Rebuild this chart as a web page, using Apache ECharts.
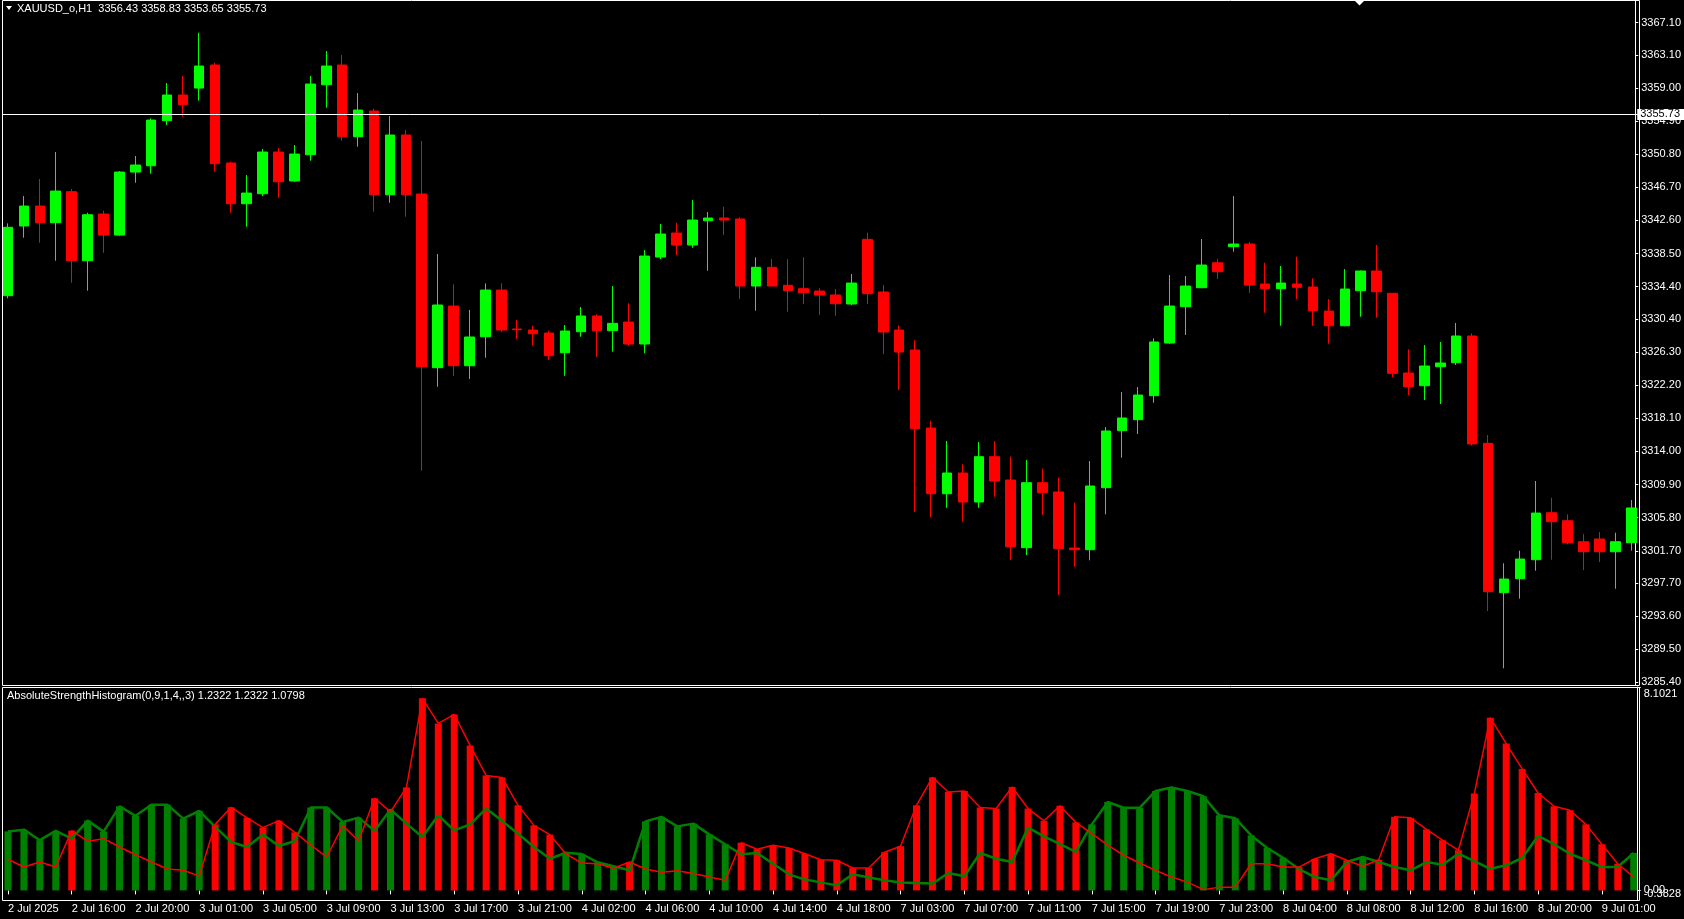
<!DOCTYPE html>
<html><head><meta charset="utf-8">
<script src="https://cdn.jsdelivr.net/npm/echarts@6/dist/echarts.min.js"></script>
<style>html,body{margin:0;padding:0;background:#000;}#c{width:1684px;height:919px;}</style>
</head><body><div id="c"></div>
<script>
// trading sessions (day, first hour, last hour) -> one H1 bar per hour
const sessions = [['2 Jul',12,23],['3 Jul',1,23],['4 Jul',1,19],['7 Jul',1,23],['8 Jul',1,23],['9 Jul',1,3]];
const firstLabel = '2 Jul 2025';
const mainTitle = 'XAUUSD_o,H1  3356.43 3358.83 3353.65 3355.73';
const subTitle = 'AbsoluteStrengthHistogram(0,9,1,4,,3) 1.2322 1.2322 1.0798';
const priceLine = 3355.73;
const zeroLevel = 0;

const opens = [3333.28,3341.91,3344.38,3342.32,3346.16,3337.61,3343.39,3340.79,3348.59,3349.37,
3354.95,3358.13,3358.99,3361.84,3349.71,3344.67,3345.91,3351.07,3347.48,3350.74,
3359.40,3361.84,3352.96,3356.15,3345.78,3353.18,3345.87,3324.37,3332.00,3324.61,
3328.20,3333.98,3329.16,3329.03,3328.66,3326.22,3328.82,3330.77,3328.95,3330.02,
3327.30,3338.07,3341.04,3339.56,3342.56,3342.90,3342.78,3334.48,3336.80,3334.57,
3334.15,3333.86,3333.37,3332.25,3340.26,3333.74,3329.03,3326.56,3316.90,3308.76,
3311.33,3307.74,3313.35,3310.46,3302.08,3310.13,3308.98,3302.04,3301.83,3309.51,
3316.57,3317.93,3320.90,3327.42,3331.92,3334.27,3337.36,3339.35,3339.68,3334.73,
3334.15,3334.73,3334.36,3331.38,3329.56,3333.90,3336.34,3333.58,3323.71,3322.14,
3324.49,3324.98,3328.29,3315.00,3296.51,3298.24,3300.59,3306.41,3305.42,3302.82,
3303.16,3301.58,3302.70];
const highs = [3342.24,3345.62,3347.73,3351.07,3346.49,3343.56,3343.80,3348.70,3350.58,3355.24,
3359.61,3360.48,3365.84,3362.13,3349.87,3348.22,3351.44,3351.57,3351.94,3360.48,
3363.57,3363.08,3358.37,3356.43,3355.53,3353.79,3352.43,3338.44,3334.69,3331.51,
3334.81,3334.81,3330.27,3329.56,3328.95,3329.65,3331.88,3330.98,3334.48,3332.34,
3338.94,3342.16,3342.32,3345.13,3343.64,3344.30,3342.99,3338.03,3337.82,3337.79,
3338.03,3334.20,3334.11,3335.97,3341.08,3334.60,3329.61,3327.76,3317.80,3315.29,
3312.40,3315.17,3315.29,3313.35,3312.94,3311.86,3310.75,3307.65,3312.81,3317.02,
3321.36,3321.97,3328.00,3335.84,3335.72,3340.30,3337.86,3345.62,3339.93,3337.36,
3336.96,3338.11,3335.43,3332.87,3336.58,3336.40,3339.56,3333.60,3326.64,3327.17,
3327.55,3329.90,3328.62,3316.03,3300.15,3301.71,3310.34,3308.27,3306.21,3303.77,
3304.02,3303.94,3307.98];
const lows = [3332.96,3340.46,3339.84,3337.61,3334.89,3333.90,3338.60,3340.70,3347.27,3348.38,
3354.41,3355.44,3357.42,3348.63,3343.56,3341.82,3345.62,3345.41,3347.40,3349.99,
3356.56,3352.47,3351.73,3343.68,3344.79,3343.06,3311.61,3322.01,3323.34,3322.97,
3325.60,3328.82,3327.92,3327.09,3325.32,3323.37,3328.20,3325.72,3326.35,3327.09,
3326.15,3337.82,3338.32,3339.22,3336.37,3340.79,3332.87,3331.42,3334.39,3331.30,
3332.25,3330.89,3330.80,3332.13,3332.25,3326.06,3321.60,3306.50,3305.84,3307.03,
3305.30,3307.03,3308.39,3300.56,3301.17,3306.13,3296.22,3299.73,3300.52,3306.21,
3313.22,3316.16,3320.03,3327.34,3328.41,3334.20,3335.35,3338.73,3333.65,3331.17,
3329.56,3332.83,3329.56,3327.34,3329.50,3330.68,3330.56,3323.18,3320.98,3320.37,
3319.87,3324.70,3314.71,3294.24,3287.15,3295.77,3299.23,3300.59,3302.50,3299.31,
3300.31,3297.00,3301.71];
const closes = [3341.75,3344.38,3342.32,3346.24,3337.61,3343.31,3340.79,3348.59,3349.46,3355.03,
3358.13,3356.93,3361.72,3349.62,3344.67,3345.99,3351.07,3347.39,3350.82,3359.49,
3361.72,3352.96,3356.27,3345.78,3353.18,3345.78,3324.49,3332.13,3324.61,3328.17,
3333.98,3329.03,3329.07,3328.57,3325.85,3328.91,3330.77,3328.95,3329.86,3327.30,
3338.19,3340.92,3339.56,3342.65,3342.90,3342.65,3334.48,3336.80,3334.48,3333.90,
3333.65,3333.37,3332.29,3334.85,3333.53,3328.78,3326.31,3316.81,3308.76,3311.33,
3307.74,3313.35,3310.34,3302.20,3310.13,3308.89,3301.96,3301.83,3309.72,3316.53,
3318.14,3320.98,3327.55,3332.00,3334.48,3337.08,3336.25,3339.68,3334.60,3334.15,
3334.85,3334.32,3331.42,3329.56,3334.11,3336.34,3333.77,3323.67,3322.01,3324.58,
3324.95,3328.29,3314.92,3296.63,3298.20,3300.68,3306.37,3305.30,3302.70,3301.58,
3301.58,3302.82,3307.00];

const bulls = [2.35,2.42,2.00,2.37,2.06,2.78,2.34,3.35,2.97,3.41,
3.41,2.86,3.17,2.53,1.93,1.73,2.23,1.77,1.97,3.30,
3.30,2.73,2.90,2.37,3.22,2.66,2.13,2.99,2.39,2.63,
3.26,2.77,2.26,1.73,1.26,1.50,1.45,1.12,0.96,0.80,
2.75,2.93,2.55,2.66,2.23,1.84,1.44,1.49,1.06,0.64,
0.43,0.32,0.20,0.64,0.51,0.40,0.31,0.29,0.27,0.69,
0.56,1.49,1.26,1.13,2.50,2.15,1.84,1.53,2.63,3.52,
3.29,3.29,3.96,4.10,3.96,3.75,2.99,2.87,2.19,1.69,
1.30,0.85,0.53,0.40,1.13,1.33,1.13,0.93,0.80,1.13,
1.02,1.46,1.17,0.86,1.00,1.29,2.17,1.84,1.46,1.20,
0.93,0.93,1.49];
const bears = [1.24,0.93,1.13,0.93,2.38,1.96,2.06,1.73,1.42,1.13,
0.85,0.80,0.57,2.63,3.31,2.89,2.50,2.78,2.31,1.80,
1.33,2.58,1.97,3.67,3.13,4.10,7.65,6.65,7.01,5.77,
4.58,4.50,3.39,2.59,2.22,1.46,1.09,1.06,0.88,1.13,
0.85,0.72,0.78,0.67,0.53,0.40,1.90,1.64,1.80,1.69,
1.46,1.22,1.20,0.89,0.89,1.52,1.76,3.39,4.50,3.92,
3.96,3.30,3.26,4.12,3.26,2.77,3.37,2.71,2.26,1.80,
1.40,1.09,0.80,0.53,0.33,0.03,0.13,0.13,1.06,1.06,
0.93,0.93,1.26,1.46,1.20,0.96,1.22,2.93,2.89,2.43,
2.00,1.60,3.86,6.88,5.85,4.84,3.88,3.35,3.19,2.63,
1.84,1.06,0.53];

const priceTicks = [3367.10,3363.10,3359.00,3354.90,3350.80,3346.70,3342.60,3338.50,3334.40,3330.40,
3326.30,3322.20,3318.10,3314.00,3309.90,3305.80,3301.70,3297.70,3293.60,3289.50,3285.40];
const subTicks = [8.1021, -0.3828];

const categories = [];
sessions.forEach(([d, h0, h1]) => { for (let h = h0; h <= h1; h++) categories.push(d + ' ' + String(h).padStart(2,'0') + ':00'); });

const FONT = "'Liberation Sans Narrow','Liberation Sans',Arial,sans-serif";
const candleData = opens.map((o, i) => [o, closes[i], lows[i], highs[i]]);
const histData = bulls.map((b, i) => ({ value: Math.max(b, bears[i]), itemStyle: { color: b >= bears[i] ? '#008000' : '#ff0000' } }));

const chart = echarts.init(document.getElementById('c'), null, { renderer: 'canvas' });
const GL = -4.7, GR = 40.7;
chart.setOption({
  backgroundColor: '#000',
  animation: false,
  title: [
    { text: mainTitle, left: 17, top: 3, padding: 0, textStyle: { color: '#fff', fontSize: 11, fontWeight: 'normal', fontFamily: FONT } },
    { text: subTitle, left: 7, top: 690, padding: 0, textStyle: { color: '#fff', fontSize: 11, fontWeight: 'normal', fontFamily: FONT } }
  ],
  grid: [
    { left: GL, right: GR, top: 1, height: 684 },
    { left: GL, right: GR, top: 687, height: 213 }
  ],
  xAxis: [
    { type: 'category', gridIndex: 0, data: categories, boundaryGap: true, show: false },
    { type: 'category', gridIndex: 1, data: categories, boundaryGap: true,
      axisLine: { show: false },
      axisTick: { show: true, interval: 3, alignWithLabel: true, length: 4, lineStyle: { color: '#fff' } },
      axisLabel: { interval: 3, align: 'left', color: '#fff', fontSize: 11, fontFamily: FONT, margin: 3,
        formatter: (v, i) => i === 0 ? firstLabel : v },
      splitLine: { show: false } }
  ],
  yAxis: [
    { type: 'value', gridIndex: 0, position: 'right', offset: -4, min: 3285.08, max: 3369.77,
      axisLine: { show: true, lineStyle: { color: '#fff' } },
      axisTick: { show: true, length: 3, lineStyle: { color: '#fff' }, customValues: priceTicks },
      axisLabel: { color: '#fff', fontSize: 11, fontFamily: FONT, margin: 6, customValues: priceTicks,
        formatter: v => v.toFixed(2) },
      splitLine: { show: false } },
    { type: 'value', gridIndex: 1, position: 'right', offset: -4, min: -0.3828, max: 8.1021,
      axisLine: { show: true, lineStyle: { color: '#fff' } },
      axisTick: { show: true, length: 3, lineStyle: { color: '#fff' }, customValues: [0, 8.1021] },
      axisLabel: { color: '#fff', fontSize: 11, fontFamily: FONT, margin: 6, customValues: subTicks,
        showMinLabel: true, showMaxLabel: true, hideOverlap: false,
        formatter: v => v > 8 ? '{t|8.1021}' : '{b|-0.3828}',
        rich: { t: { padding: [14, 0, 0, 0] }, b: { padding: [0, 0, 13, 0] } } },
      splitLine: { show: false } }
  ],
  series: [
    { type: 'candlestick', xAxisIndex: 0, yAxisIndex: 0, data: candleData, barWidth: 10,
      itemStyle: { color: '#00ff00', color0: '#ff0000', borderColor: '#00ff00', borderColor0: '#ff0000', borderWidth: 1 },
      markLine: { silent: true, symbol: ['none', 'none'], animation: false,
        lineStyle: { color: '#fff', width: 1, type: 'solid' },
        label: { show: true, position: 'end', distance: -2, formatter: priceLine.toFixed(2), color: '#000',
          backgroundColor: '#fff', padding: [0, 4, 0, 3], fontSize: 11, fontFamily: FONT },
        data: [{ yAxis: priceLine }] } },
    { type: 'bar', xAxisIndex: 1, yAxisIndex: 1, data: histData, barWidth: 7 },
    { type: 'line', xAxisIndex: 1, yAxisIndex: 1, data: bulls, symbol: 'none', lineStyle: { color: '#008000', width: 2.5 } },
    { type: 'line', xAxisIndex: 1, yAxisIndex: 1, data: bears, symbol: 'none', lineStyle: { color: '#ff0000', width: 1.5 },
      markLine: { silent: true, symbol: ['none', 'none'], animation: false,
        lineStyle: { color: 'rgba(0,0,0,0)', width: 1, type: 'solid' },
        label: { show: true, position: 'end', distance: 2, formatter: '0.00', color: '#ffffff', fontSize: 11, fontFamily: FONT,
          padding: [3, 0, 0, 0] },
        data: [{ yAxis: zeroLevel }] } }
  ],
  graphic: { elements: [
    { type: 'rect', z: 100, shape: { x: 0, y: 0, width: 2.5, height: 919 }, style: { fill: '#000' } },
    { type: 'rect', z: 101, shape: { x: 2.5, y: 0.5, width: 1637, height: 685 }, style: { fill: 'none', stroke: '#fff', lineWidth: 1 } },
    { type: 'rect', z: 101, shape: { x: 2.5, y: 687.5, width: 1637, height: 213 }, style: { fill: 'none', stroke: '#fff', lineWidth: 1 } },
    { type: 'polygon', z: 101, shape: { points: [[6, 6], [12, 6], [9, 10]] }, style: { fill: '#fff' } },
    { type: 'polygon', z: 101, shape: { points: [[1355, 1], [1364, 1], [1359.5, 5.5]] }, style: { fill: '#fff' } }
  ] }
});
</script>
</body></html>
